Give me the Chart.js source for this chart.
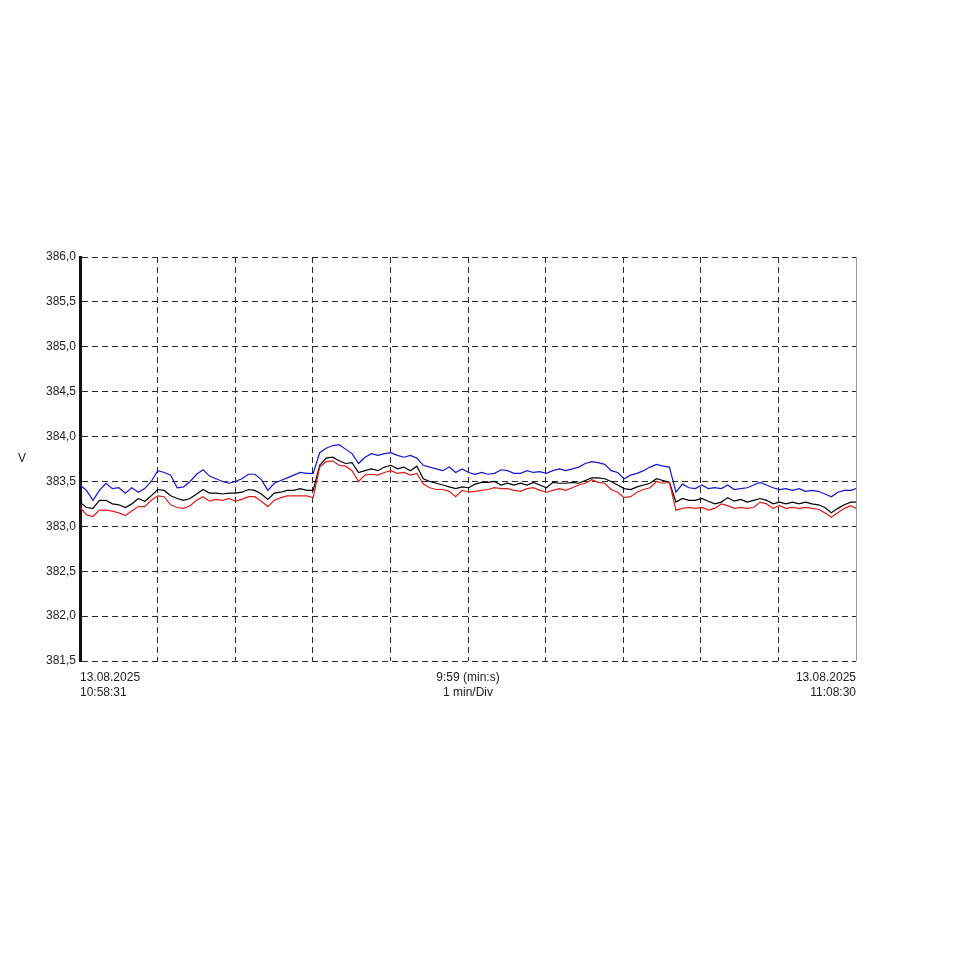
<!DOCTYPE html>
<html>
<head>
<meta charset="utf-8">
<title>Spannung V</title>
<script src="https://cdn.jsdelivr.net/npm/chart.js@4.4.1/dist/chart.umd.min.js"></script>
<style>
  html, body { margin: 0; padding: 0; background: #fff; }
  #wrap { width: 959px; height: 959px; }
</style>
</head>
<body>
<div id="wrap"><canvas id="voltChart" width="959" height="959"></canvas></div>
<script>
// Messzeit in Sekunden ab 10:58:31 (alle 5 s, letzter Punkt 9:59)
const sampleSeconds = Array.from({ length: 121 }, (_, i) => Math.min(i * 5, 599));

// Spannung blau (V)
const blueValues = [
  383.46, 383.40, 383.29, 383.40, 383.48, 383.42, 383.43, 383.37, 383.43, 383.38,
  383.42, 383.50, 383.62, 383.60, 383.57, 383.43, 383.44, 383.50, 383.58, 383.63,
  383.56, 383.53, 383.50, 383.48, 383.50, 383.53, 383.58, 383.58, 383.52, 383.40,
  383.48, 383.51, 383.54, 383.57, 383.60, 383.59, 383.59, 383.82, 383.87, 383.90,
  383.91, 383.86, 383.81, 383.70, 383.77, 383.81, 383.79, 383.81, 383.82, 383.79,
  383.77, 383.79, 383.76, 383.68, 383.66, 383.64, 383.62, 383.66, 383.60, 383.64,
  383.60, 383.58, 383.60, 383.58, 383.59, 383.63, 383.62, 383.59, 383.59, 383.62,
  383.60, 383.61, 383.59, 383.62, 383.64, 383.62, 383.64, 383.66, 383.70, 383.72,
  383.71, 383.69, 383.62, 383.60, 383.53, 383.57, 383.59, 383.62, 383.66, 383.69,
  383.67, 383.66, 383.38, 383.47, 383.43, 383.42, 383.46, 383.42, 383.43, 383.42,
  383.46, 383.41, 383.42, 383.43, 383.46, 383.49, 383.46, 383.43, 383.41, 383.42,
  383.40, 383.42, 383.39, 383.40, 383.39, 383.36, 383.33, 383.38, 383.40, 383.40,
  383.42
];

// Spannung schwarz (V)
const blackValues = [
  383.27, 383.21, 383.20, 383.29, 383.29, 383.25, 383.24, 383.21, 383.25, 383.31,
  383.28, 383.34, 383.41, 383.40, 383.34, 383.31, 383.29, 383.31, 383.36, 383.41,
  383.37, 383.37, 383.36, 383.37, 383.37, 383.38, 383.41, 383.40, 383.36, 383.30,
  383.37, 383.38, 383.40, 383.40, 383.42, 383.40, 383.40, 383.68, 383.76, 383.77,
  383.73, 383.70, 383.71, 383.60, 383.62, 383.64, 383.62, 383.66, 383.68, 383.64,
  383.66, 383.62, 383.67, 383.53, 383.50, 383.48, 383.46, 383.44, 383.42, 383.44,
  383.43, 383.47, 383.49, 383.49, 383.50, 383.46, 383.48, 383.46, 383.48, 383.46,
  383.49, 383.46, 383.43, 383.49, 383.48, 383.48, 383.49, 383.48, 383.51, 383.54,
  383.54, 383.53, 383.50, 383.46, 383.42, 383.41, 383.44, 383.46, 383.48, 383.53,
  383.51, 383.49, 383.27, 383.31, 383.29, 383.29, 383.31, 383.28, 383.25, 383.27,
  383.32, 383.28, 383.30, 383.27, 383.29, 383.31, 383.29, 383.25, 383.27, 383.25,
  383.27, 383.25, 383.27, 383.25, 383.24, 383.21, 383.15, 383.20, 383.24, 383.27,
  383.27
];

// Spannung rot (V)
const redValues = [
  383.21, 383.13, 383.11, 383.18, 383.18, 383.17, 383.15, 383.12, 383.17, 383.22,
  383.22, 383.29, 383.34, 383.33, 383.24, 383.21, 383.20, 383.23, 383.29, 383.33,
  383.28, 383.30, 383.29, 383.31, 383.28, 383.30, 383.33, 383.33, 383.28, 383.22,
  383.29, 383.32, 383.34, 383.34, 383.34, 383.34, 383.32, 383.66, 383.72, 383.73,
  383.68, 383.67, 383.62, 383.50, 383.57, 383.58, 383.57, 383.60, 383.62, 383.59,
  383.60, 383.57, 383.59, 383.47, 383.43, 383.41, 383.41, 383.39, 383.33, 383.40,
  383.38, 383.39, 383.40, 383.41, 383.43, 383.42, 383.42, 383.40, 383.39, 383.42,
  383.43, 383.40, 383.38, 383.40, 383.42, 383.40, 383.43, 383.46, 383.48, 383.52,
  383.49, 383.48, 383.41, 383.38, 383.32, 383.33, 383.38, 383.41, 383.43, 383.50,
  383.48, 383.49, 383.18, 383.20, 383.21, 383.20, 383.21, 383.18, 383.20, 383.25,
  383.23, 383.20, 383.21, 383.20, 383.21, 383.27, 383.25, 383.20, 383.23, 383.20,
  383.21, 383.20, 383.21, 383.20, 383.19, 383.15, 383.10, 383.15, 383.20, 383.23,
  383.20
];

// Rasterteilung der Zeitachse (10 Div über 9:59)
const xDivisions = [0, 59.9, 119.8, 179.7, 239.6, 299.5, 359.4, 419.3, 479.2, 539.1, 599];
// Beschriftung unter der Zeitachse
const xTickLabels = {
  0: ['13.08.2025', '10:58:31'],
  5: ['9:59 (min:s)', '1 min/Div'],
  10: ['13.08.2025', '11:08:30']
};
const yMin = 381.5;
const yMax = 386.0;
const yStep = 0.5;
const yUnit = 'V';

const fontFamily = '"Liberation Sans", Arial, sans-serif';
const textColor = '#222';
const gridColor = '#2a2a2a';

function toPoints(values) {
  return values.map((v, i) => ({ x: sampleSeconds[i], y: v }));
}

// Einheit links und rechter Rahmen
const framePlugin = {
  id: 'frame',
  afterDraw(chart) {
    const { ctx, chartArea } = chart;
    ctx.save();
    ctx.strokeStyle = '#9a9a9a';
    ctx.lineWidth = 1;
    ctx.beginPath();
    ctx.moveTo(chartArea.right + 0.5, chartArea.top);
    ctx.lineTo(chartArea.right + 0.5, chartArea.bottom);
    ctx.stroke();

    ctx.fillStyle = textColor;
    ctx.font = '12px ' + fontFamily;
    ctx.textAlign = 'center';
    ctx.textBaseline = 'middle';
    ctx.fillText(yUnit, 22, (chartArea.top + chartArea.bottom) / 2);
    ctx.restore();
  }
};

const ctx = document.getElementById('voltChart').getContext('2d');
new Chart(ctx, {
  type: 'line',
  data: {
    datasets: [
      { label: 'rot', data: toPoints(redValues), borderColor: '#dd1c1c' },
      { label: 'schwarz', data: toPoints(blackValues), borderColor: '#000000' },
      { label: 'blau', data: toPoints(blueValues), borderColor: '#1616c8' }
    ]
  },
  options: {
    responsive: false,
    animation: false,
    devicePixelRatio: 1,
    layout: { padding: { top: 257, left: 0, right: 103, bottom: 238 } },
    elements: {
      line: { borderWidth: 1.2, tension: 0, fill: false },
      point: { radius: 0, hoverRadius: 0 }
    },
    plugins: {
      legend: { display: false },
      tooltip: { enabled: false }
    },
    scales: {
      x: {
        type: 'linear',
        min: 0,
        max: 599,
        afterBuildTicks(scale) {
          scale.ticks = xDivisions.map(v => ({ value: v }));
        },
        afterFit(scale) { scale.height = 60; },
        grid: {
          color: c => (c.index === 10 ? 'rgba(0,0,0,0)' : gridColor),
          lineWidth: 1,
          drawTicks: false
        },
        border: { display: false, dash: [6, 4] },
        ticks: {
          autoSkip: false,
          maxRotation: 0,
          align: 'inner',
          padding: 9,
          color: textColor,
          font: { family: fontFamily, size: 12, lineHeight: 1.25 },
          callback: (value, index) => xTickLabels[index] || ''
        }
      },
      y: {
        min: yMin,
        max: yMax,
        afterFit(scale) { scale.width = 80; },
        grid: { color: gridColor, lineWidth: 1, drawTicks: false },
        border: { display: true, color: '#111', width: 3, dash: [6, 4] },
        ticks: {
          stepSize: yStep,
          padding: 4,
          color: textColor,
          font: { family: fontFamily, size: 12 },
          callback: v => v.toFixed(1).replace('.', ',')
        }
      }
    }
  },
  plugins: [framePlugin]
});
</script>
</body>
</html>
